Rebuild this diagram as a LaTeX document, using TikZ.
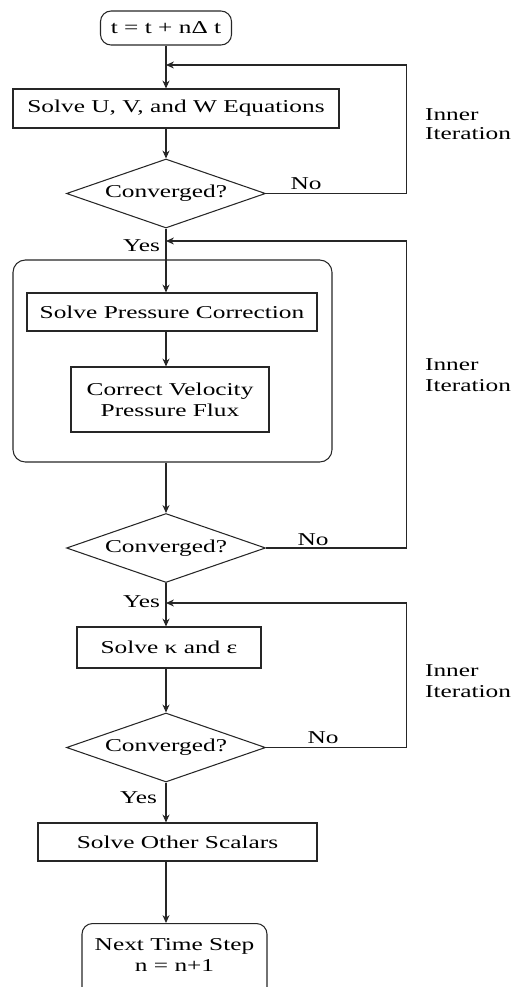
\documentclass[tikz,border=0pt]{standalone}
\usepackage{fontspec}
\setmainfont{Liberation Serif}[FakeStretch=1.4]
\usetikzlibrary{shapes.geometric,arrows.meta}
\colorlet{ln}{black!85}

\begin{document}
\begin{tikzpicture}[
  txt/.style={font=\fontsize{10.3}{12}\selectfont, text=black, inner sep=1pt},
  box/.style={txt, draw=ln, line width=0.6pt, rectangle, inner sep=2pt},
  rbox/.style={box, rounded corners=6pt},
  decision/.style={txt, draw=ln, line width=0.6pt, diamond, aspect=2.9, inner sep=0pt,
    minimum width=3.98cm, minimum height=1.38cm},
  flow/.style={draw=ln, line width=0.6pt, -{Stealth[length=4.5pt,width=4pt]}},
  note/.style={txt, align=left, anchor=west}
]
\useasboundingbox (0,0) rectangle (10.5,-19.74);
\clip (0,0) rectangle (10.5,-19.74);

% main column
\node[rbox, minimum width=2.62cm, minimum height=0.68cm] (start) at (3.32,-0.56) {t = t + nΔ t};
\node[box, minimum width=6.52cm, minimum height=0.78cm] (uvw) at (3.52,-2.17) {Solve U, V, and W Equations};
\node[decision] (conv1) at (3.32,-3.87) {Converged?};
\node[rbox, rounded corners=7pt, minimum width=6.38cm, minimum height=4.04cm] (pgroup) at (3.45,-7.22) {};
\node[box, minimum width=5.8cm, minimum height=0.76cm] (pc) at (3.44,-6.24) {Solve Pressure Correction};
\node[box, align=center, minimum width=3.96cm, minimum height=1.3cm] (cv) at (3.40,-7.99) {Correct Velocity\\Pressure Flux};
\node[decision] (conv2) at (3.32,-10.96) {Converged?};
\node[box, minimum width=3.68cm, minimum height=0.82cm] (ke) at (3.38,-12.95) {Solve κ and ε};
\node[decision] (conv3) at (3.32,-14.95) {Converged?};
\node[box, minimum width=5.58cm, minimum height=0.76cm] (os) at (3.55,-16.84) {Solve Other Scalars};
\node[rbox, align=center, anchor=north, text depth=0.3cm, minimum width=3.7cm, minimum height=1.56cm] (next) at (3.49,-18.46) {Next Time Step\\n = n+1};

% join points of the loops
\coordinate (j1) at (3.32,-1.30);
\coordinate (r1) at (8.13,-1.30);
\coordinate (j2) at (3.32,-4.82);
\coordinate (r2) at (8.13,-4.82);
\coordinate (j3) at (3.32,-12.06);
\coordinate (r3) at (8.13,-12.06);

% downward flow
\draw[flow] (start.south) -- (start.south |- uvw.north);
\draw[flow] (uvw.south -| conv1) -- (conv1.north);
\draw[flow] (conv1.south) -- (conv1.south |- pc.north);
\draw[flow] (pc.south -| conv1) -- (cv.north -| conv1);
\draw[flow] (pgroup.south -| conv2) -- (conv2.north);
\draw[flow] (conv2.south) -- (conv2.south |- ke.north);
\draw[flow] (ke.south -| conv3) -- (conv3.north);
\draw[flow] (conv3.south) -- (conv3.south |- os.north);
\draw[flow] (os.south -| conv3) -- (next.north -| conv3);

% inner iterations
\draw[flow] (conv1.east) -| (r1) -- (j1);
\draw[flow] (conv2.east) -| (r2) -- (j2);
\draw[flow] (conv3.east) -| (r3) -- (j3);

% labels
\node[txt, anchor=base west] (no1) at ([xshift=0.45cm, yshift=0.08cm]conv1.east) {No};
\node[txt, anchor=base west] (no2) at ([xshift=0.59cm, yshift=0.06cm]conv2.east) {No};
\node[txt, anchor=base west] (no3) at ([xshift=0.79cm, yshift=0.08cm]conv3.east) {No};
\node[txt, anchor=base east] (yes1) at (3.24,-5.02) {Yes};
\node[txt, anchor=base east] (yes2) at (3.24,-12.14) {Yes};
\node[txt, anchor=base east] (yes3) at (3.18,-16.06) {Yes};
\node[note] (iter1) at (8.46,-2.48) {Inner\\[-1.5pt]Iteration};
\node[note] (iter2) at (8.46,-7.5) {Inner\\Iteration};
\node[note] (iter3) at (8.46,-13.63) {Inner\\Iteration};
\end{tikzpicture}
\end{document}
